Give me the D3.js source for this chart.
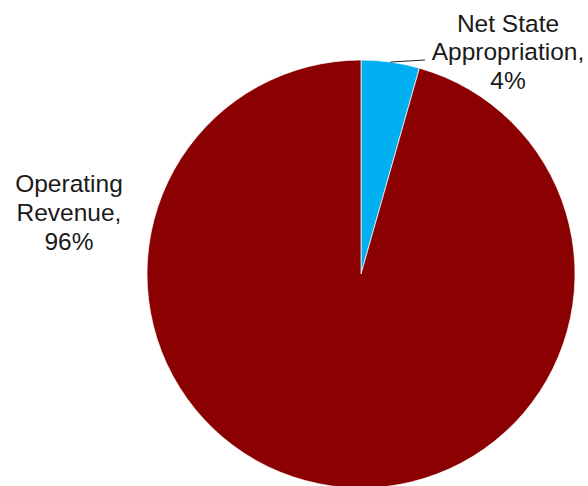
<!DOCTYPE html>
<html><head><meta charset="utf-8">
<script src="https://cdn.jsdelivr.net/npm/d3@7"></script>
<style>html,body{margin:0;padding:0;background:#fff;}svg{display:block;}</style>
</head><body>
<svg id="chart" width="588" height="486"></svg>
<script>
const categories = ["Net State Appropriation", "Operating Revenue"];
const values = [4.4, 95.6];
const labels = [["Net State", "Appropriation,", "4%"], ["Operating", "Revenue,", "96%"]];
const colors = ["#00B0F0", "#8B0000"];

const svg = d3.select("#chart");
const cx = 361, cy = 274, r = 214;
const g = svg.append("g").attr("transform", `translate(${cx},${cy})`);
const pie = d3.pie().sort(null).value(d => d)(values);
const arc = d3.arc().innerRadius(0).outerRadius(r);
g.selectAll("path").data(pie).enter().append("path")
  .attr("d", arc).attr("fill", (d, i) => colors[i])
  .attr("stroke", "#fff").attr("stroke-width", 0.7);

// leader line for small slice
const mid = (pie[0].startAngle + pie[0].endAngle) / 2;
const p0 = [Math.sin(mid) * r, -Math.cos(mid) * r];
g.append("line").attr("x1", p0[0]).attr("y1", p0[1])
  .attr("x2", 425 - cx).attr("y2", 60 - cy)
  .attr("stroke", "#222").attr("stroke-width", 1);

const labelPos = [{x: 508, y: 31.7, dy: 28.5}, {x: 69, y: 191.7, dy: 29.2}];
labels.forEach((lines, i) => {
  const t = svg.append("text").attr("text-anchor", "middle")
    .attr("font-family", "Liberation Sans, Arial, sans-serif")
    .attr("font-size", 24.5).attr("fill", "#1a1a1a");
  lines.forEach((s, j) => {
    t.append("tspan").attr("x", labelPos[i].x).attr("y", labelPos[i].y + j * labelPos[i].dy).text(s);
  });
});
</script>
</body></html>
